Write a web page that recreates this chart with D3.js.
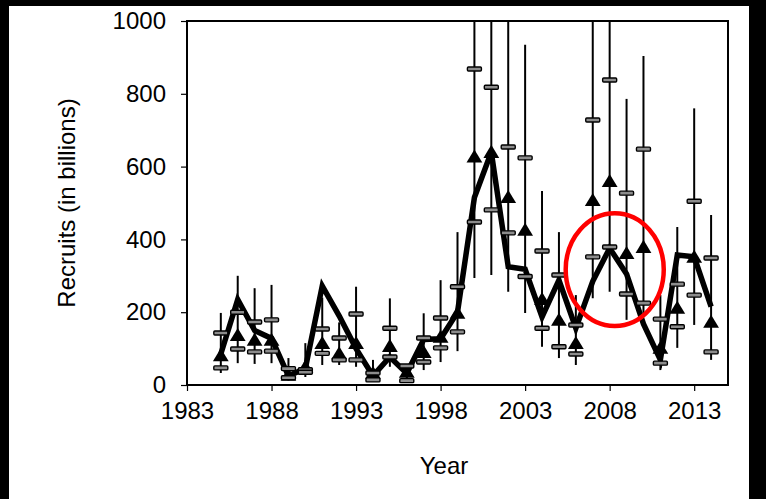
<!DOCTYPE html>
<html>
<head>
<meta charset="utf-8">
<script src="https://cdn.jsdelivr.net/npm/d3@7/dist/d3.min.js"></script>
<style>
  html, body { margin: 0; padding: 0; background: #000; }
  svg { display: block; }
  text { font-family: Arial, "Liberation Sans", sans-serif; fill: #000; }
</style>
</head>
<body>
<svg id="chart" width="766" height="499"></svg>
<script>
// Recruitment by year (billions of fish)
const years = [1985, 1986, 1987, 1988, 1989, 1990, 1991, 1992, 1993, 1994,
               1995, 1996, 1997, 1998, 1999, 2000, 2001, 2002, 2003, 2004,
               2005, 2006, 2007, 2008, 2009, 2010, 2011, 2012, 2013, 2014];

// Model estimate (thick line)
const modelRecruits = [85, 235, 150, 128, 25, 45, 272, 190, 100, 25,
                       77, 32, 125, 127, 200, 515, 640, 325, 318, 187,
                       288, 156, 285, 376, 305, 168, 69, 357, 352, 215];

// Index estimate (triangles) with its error range
const indexRecruits = [81, 137, 124, 124, 28, 50, 115, 87, 115, 33,
                       107, 36, 90, 132, 198, 627, 640, 516, 426, 236,
                       179, 115, 508, 560, 362, 379, 102, 212, 352, 173];
const indexLow  = [33, 60, 58, 60, 12, 22, 55, 55, 50, 10,
                   50, 8, 41, 63, 93, 294, 302, 256, 198, 105,
                   74, 55, 238, 256, 179, 197, 41, 102, 165, 69];
const indexHigh = [198, 300, 266, 275, 74, 115, 240, 172, 270, 69,
                   238, 55, 197, 288, 420, 1250, 1400, 1150, 935, 533,
                   420, 247, 1300, 1450, 786, 904, 247, 434, 760, 467];

// Model interval bounds (dash markers)
const modelUpper = [143, 200, 173, 179, 45, 42, 154, 129, 195, 33,
                    156, 52, 129, 184, 270, 868, 818, 654, 624, 368,
                    302, 165, 728, 838, 527, 648, 181, 277, 505, 349];
const modelLower = [47, 99, 91, 93, 20, 35, 87, 69, 69, 14,
                    77, 12, 63, 102, 146, 448, 481, 418, 298, 156,
                    105, 85, 352, 379, 250, 225, 60, 160, 247, 91];

const xTicks = [1983, 1988, 1993, 1998, 2003, 2008, 2013];
const yTicks = [0, 200, 400, 600, 800, 1000];

const svg = d3.select("#chart");

// page frame: white sheet on a dark border
svg.append("rect").attr("x", 0).attr("y", 0).attr("width", 766).attr("height", 499).attr("fill", "#000");
svg.append("rect").attr("x", 9).attr("y", 6).attr("width", 740).attr("height", 493).attr("fill", "#fff");

const plot = { left: 187, right: 728, top: 21, bottom: 385 };

const x = d3.scaleLinear().domain([1983, 2015]).range([plot.left, plot.right]);
const y = d3.scaleLinear().domain([0, 1000]).range([plot.bottom, plot.top]);

svg.append("defs").append("clipPath").attr("id", "plotClip")
  .append("rect")
  .attr("x", plot.left).attr("y", plot.top)
  .attr("width", plot.right - plot.left).attr("height", plot.bottom - plot.top);

const rows = years.map((yr, i) => ({
  year: yr,
  model: modelRecruits[i],
  index: indexRecruits[i],
  lo: indexLow[i],
  hi: indexHigh[i],
  up: modelUpper[i],
  dn: modelLower[i]
}));

const g = svg.append("g").attr("clip-path", "url(#plotClip)");

// error bars of the index
g.selectAll("line.err").data(rows).join("line")
  .attr("class", "err")
  .attr("x1", d => x(d.year)).attr("x2", d => x(d.year))
  .attr("y1", d => y(d.lo)).attr("y2", d => y(d.hi))
  .attr("stroke", "#000").attr("stroke-width", 2);

// model line
g.append("path")
  .datum(rows)
  .attr("d", d3.line().x(d => x(d.year)).y(d => y(d.model)))
  .attr("fill", "none").attr("stroke", "#000")
  .attr("stroke-width", 5.5).attr("stroke-linejoin", "miter");

// index triangles
const tri = d3.symbol().type(d3.symbolTriangle).size(98);
g.selectAll("path.tri").data(rows).join("path")
  .attr("class", "tri")
  .attr("d", tri)
  .attr("transform", d => `translate(${x(d.year)},${y(d.index) + 1.5}) scale(1.05,1)`)
  .attr("fill", "#000");

// interval dash markers
const bounds = rows.flatMap(d => [{ year: d.year, v: d.up }, { year: d.year, v: d.dn }]);
g.selectAll("rect.dash").data(bounds).join("rect")
  .attr("class", "dash")
  .attr("x", d => x(d.year) - 7).attr("y", d => y(d.v) - 2)
  .attr("width", 14).attr("height", 4)
  .attr("rx", 1)
  .attr("fill", "#8c8c8c").attr("stroke", "#000").attr("stroke-width", 1.4);

// plot border
svg.append("rect")
  .attr("x", plot.left).attr("y", plot.top)
  .attr("width", plot.right - plot.left).attr("height", plot.bottom - plot.top)
  .attr("fill", "none").attr("stroke", "#000").attr("stroke-width", 2);

// axes
const yAxis = svg.append("g")
  .attr("transform", `translate(${plot.left},0)`)
  .call(d3.axisLeft(y).tickValues(yTicks).tickSize(6).tickPadding(15).tickFormat(d3.format("d")));
const xAxis = svg.append("g")
  .attr("transform", `translate(0,${plot.bottom})`)
  .call(d3.axisBottom(x).tickValues(xTicks).tickSize(6).tickPadding(11).tickFormat(d3.format("d")));

[yAxis, xAxis].forEach(a => {
  a.select(".domain").remove();
  a.selectAll(".tick line").attr("stroke", "#000").attr("stroke-width", 1.2);
  a.selectAll(".tick text")
    .attr("font-family", "Arial, 'Liberation Sans', sans-serif")
    .attr("font-size", 24).attr("fill", "#000");
});

// axis titles
svg.append("text")
  .attr("transform", `translate(75,${(plot.top + plot.bottom) / 2}) rotate(-90)`)
  .attr("text-anchor", "middle")
  .attr("font-size", 24)
  .text("Recruits (in billions)");

svg.append("text")
  .attr("x", 444).attr("y", 474)
  .attr("text-anchor", "middle")
  .attr("font-size", 24)
  .text("Year");

// highlight around the 2008 cohort
svg.append("ellipse")
  .attr("cx", x(2008.3)).attr("cy", y(317))
  .attr("rx", x(2011.2) - x(2008.3)).attr("ry", y(317) - y(472))
  .attr("fill", "none").attr("stroke", "#f00").attr("stroke-width", 4.5);
</script>
</body>
</html>
